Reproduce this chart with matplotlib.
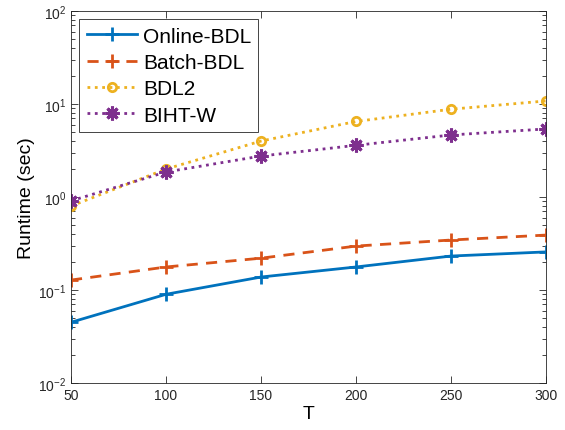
import matplotlib
matplotlib.use("Agg")
import matplotlib.pyplot as plt
from matplotlib.ticker import LogLocator, LogFormatterMathtext, NullFormatter

T = [50, 100, 150, 200, 250, 300]
online_bdl = [0.045, 0.090, 0.138, 0.177, 0.232, 0.257]
batch_bdl = [0.128, 0.177, 0.220, 0.297, 0.345, 0.390]
bdl2 = [0.80, 2.0, 4.0, 6.5, 8.8, 10.8]
biht_w = [0.91, 1.86, 2.76, 3.6, 4.65, 5.4]

plt.rcParams["font.family"] = ["Liberation Sans", "DejaVu Sans"]

fig = plt.figure(figsize=(5.65, 4.31), dpi=100)
ax = fig.add_axes([0.1257, 0.109, 0.8407, 0.863])

ax.plot(T, online_bdl, "-", color="#0072BD", lw=2, marker="+", ms=10, mew=2,
        label="Online-BDL")
ax.plot(T, batch_bdl, "--", color="#D95319", lw=2, marker="+", ms=10, mew=2,
        label="Batch-BDL", dashes=(4, 3))
ax.plot(T, bdl2, ":", color="#EDB120", lw=2, marker="o", ms=6, mew=2,
        mfc="none", label="BDL2")
ax.plot(T, biht_w, ":", color="#7E2F8E", lw=2, marker=(8, 2, 0), ms=10, mew=2.2,
        label="BIHT-W")

ax.set_yscale("log")
ax.set_xlim(50, 300)
ax.set_ylim(1e-2, 1e2)
ax.set_xticks(T)
ax.yaxis.set_major_locator(LogLocator(base=10, numticks=10))
ax.yaxis.set_major_formatter(LogFormatterMathtext())
ax.yaxis.set_minor_locator(LogLocator(base=10, subs=range(2, 10), numticks=20))
ax.yaxis.set_minor_formatter(NullFormatter())
ax.tick_params(which="both", direction="in", top=True, right=True,
               labelsize=10, colors="#262626", width=0.6)
ax.tick_params(which="major", length=5)
ax.tick_params(which="minor", length=3)
for s in ax.spines.values():
    s.set_color("#262626")
    s.set_linewidth(0.6)

ax.set_xlabel("T", fontsize=14, labelpad=2)
ax.set_ylabel("Runtime (sec)", fontsize=14, labelpad=2)

leg = ax.legend(loc="upper left", fontsize=15, fancybox=False, framealpha=1,
                edgecolor="#262626", handlelength=2.4, handletextpad=0.3,
                borderpad=0.35, labelspacing=0.35, borderaxespad=0.4)
leg.get_frame().set_linewidth(0.6)

fig.savefig("out.png", dpi=100)
